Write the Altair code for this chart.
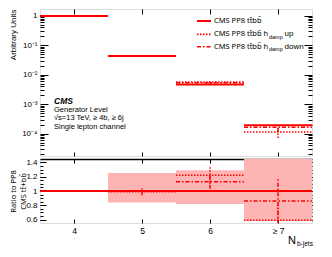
import altair as alt
import pandas as pd

# ---------------- data ----------------
bin_labels = ["4", "5", "6", "≥ 7"]
bin_center = [4, 5, 6, 7]
bin_lo = [3.5, 4.5, 5.5, 6.5]
bin_hi = [4.5, 5.5, 6.5, 7.5]

nominal = [0.98, 0.043, 0.00466, 1.93e-4]
hdamp_up = [0.98, 0.0426, 0.0057, 1.14e-4]
hdamp_down = [0.98, 0.043, 0.0053, 1.66e-4]
hdamp_up_err = [0.01, 0.002, 0.0006, 0.43e-4]
hdamp_down_err = [0.01, 0.002, 0.0005, 0.55e-4]

ratio_nominal = [1.0, 1.0, 1.0, 1.0]
ratio_up = [1.0, 0.99, 1.22, 0.59]
ratio_down = [1.0, 1.0, 1.13, 0.86]
ratio_up_err = [0.01, 0.05, 0.12, 0.22]
ratio_down_err = [0.01, 0.04, 0.10, 0.33]
band_lo = [0.99, 0.84, 0.82, 0.58]
band_hi = [1.01, 1.25, 1.29, 1.60]

legend_series = ["nom", "up", "down"]
legend_text = ["CMS PP8 tt̄bb̄", "CMS PP8 tt̄bb̄ h", "CMS PP8 tt̄bb̄ h"]
legend_sub = ["damp", "damp"]
legend_tail = ["up", "down"]

annotation_lines = ["Generator Level", "√s=13 TeV, ≥ 4b, ≥ 6j", "Single lepton channel"]

# ---------------- layout / style ----------------
W, H1, H2 = 272, 147, 64
RED = "#ff0000"
PINK = "#ffb4b4"
FONT = "Liberation Sans"
FONT_MARKS = "Noto Sans"      # has the combining macron for t̄ / b̄
DOT = [1.5, 1.5]
DASHDOT = [4, 2, 1.5, 2]

top = pd.DataFrame({
    "lo": bin_lo, "hi": bin_hi, "c": bin_center,
    "nom": nominal, "up": hdamp_up, "down": hdamp_down,
    "up_lo": [v - e for v, e in zip(hdamp_up, hdamp_up_err)],
    "up_hi": [v + e for v, e in zip(hdamp_up, hdamp_up_err)],
    "down_lo": [v - e for v, e in zip(hdamp_down, hdamp_down_err)],
    "down_hi": [v + e for v, e in zip(hdamp_down, hdamp_down_err)],
})
bot = pd.DataFrame({
    "lo": bin_lo, "hi": bin_hi, "c": bin_center,
    "nom": ratio_nominal, "up": ratio_up, "down": ratio_down,
    "band_lo": band_lo, "band_hi": band_hi,
    "up_lo": [v - e for v, e in zip(ratio_up, ratio_up_err)],
    "up_hi": [v + e for v, e in zip(ratio_up, ratio_up_err)],
    "down_lo": [v - e for v, e in zip(ratio_down, ratio_down_err)],
    "down_hi": [v + e for v, e in zip(ratio_down, ratio_down_err)],
})

ydom1 = [1.75e-5, 1.69]
ydom2 = [0.553, 1.447]
xscale = alt.Scale(domain=[3.5, 7.5], nice=False, zero=False)
yscale1 = alt.Scale(type="log", domain=ydom1, nice=False)
yscale2 = alt.Scale(domain=ydom2, nice=False, zero=False)

decades = [1e-4, 1e-3, 1e-2, 1e-1, 1.0]
minor_log = [k * 10.0 ** e for e in range(-5, 1) for k in range(2, 10)
             if ydom1[0] <= k * 10.0 ** e <= ydom1[1]]
major_lin = [0.6, 0.8, 1.0, 1.2, 1.4]
minor_lin = [round(0.55 + 0.05 * i, 2) for i in range(19)
             if ydom2[0] <= round(0.55 + 0.05 * i, 2) <= ydom2[1]]


def tick_axis(orient, values, size):
    return alt.Axis(orient=orient, values=values, tickSize=size, offset=-size,
                    labels=False, domain=False, grid=False, title=None,
                    ticks=True, tickColor="black", tickWidth=1)


# ---------------- upper panel ----------------
up_nom = alt.Chart(top).mark_rule(color=RED, strokeWidth=2).encode(
    x=alt.X("lo:Q", scale=xscale, axis=tick_axis("top", bin_center, 5)),
    x2="hi",
    y=alt.Y("nom:Q", scale=yscale1, axis=alt.Axis(
        orient="left", values=decades, ticks=False, domain=False, grid=False,
        labelExpr="datum.value >= 0.5 ? '1' : '10' + ['', '⁻¹', '⁻²', '⁻³', '⁻⁴', '⁻⁵'][round(-log(datum.value) / LN10)]",
        labelFont=FONT, labelFontSize=8, labelColor="black", labelPadding=3,
        title="Arbitrary Units", titleX=-25, titleY=0, titleAlign="right",
        titleAngle=270, titleBaseline="alphabetic", titleFont=FONT,
        titleFontSize=8, titleFontWeight="normal", titleColor="black")),
)
up_up = alt.Chart(top).mark_rule(color=RED, strokeWidth=1.5, strokeDash=DOT).encode(
    x=alt.X("lo:Q", scale=xscale, axis=tick_axis("bottom", bin_center, 4)),
    x2="hi",
    y=alt.Y("up:Q", scale=yscale1, axis=tick_axis("left", decades, 8)),
)
up_down = alt.Chart(top).mark_rule(color=RED, strokeWidth=1.5, strokeDash=DASHDOT).encode(
    x=alt.X("lo:Q", scale=xscale, axis=None),
    x2="hi",
    y=alt.Y("down:Q", scale=yscale1, axis=tick_axis("left", minor_log, 4)),
)
up_uperr = alt.Chart(top).mark_rule(color=RED, strokeWidth=1.5, strokeDash=DOT).encode(
    x=alt.X("c:Q", scale=xscale, axis=None),
    y=alt.Y("up_lo:Q", scale=yscale1, axis=tick_axis("right", decades, 8)),
    y2="up_hi",
)
up_downerr = alt.Chart(top).mark_rule(color=RED, strokeWidth=1.5, strokeDash=DASHDOT).encode(
    x=alt.X("c:Q", scale=xscale, axis=None),
    y=alt.Y("down_lo:Q", scale=yscale1, axis=tick_axis("right", minor_log, 4)),
    y2="down_hi",
)

# legend (drawn by hand so that the subscript can be shown)
leg_rows_y = [12, 25.3, 37.7]
leg_lines = pd.DataFrame({"x1": [157] * 3, "x2": [171] * 3, "y": leg_rows_y,
                          "s": legend_series})
leg_main = pd.DataFrame({"x": [174] * 3, "y": leg_rows_y, "t": legend_text})
leg_subs = pd.DataFrame({"x": [229] * 2, "y": [r + 2.5 for r in leg_rows_y[1:]],
                         "t": legend_sub})
leg_tail = pd.DataFrame({"x": [244.5] * 2, "y": leg_rows_y[1:], "t": legend_tail})

legend_lines = alt.Chart(leg_lines).mark_rule(color=RED).encode(
    x=alt.X("x1:Q", scale=None, axis=None), x2="x2",
    y=alt.Y("y:Q", scale=None, axis=None),
    strokeDash=alt.StrokeDash("s:N", scale=alt.Scale(domain=legend_series,
                              range=[[1, 0], DOT, DASHDOT]), legend=None),
    strokeWidth=alt.StrokeWidth("s:N", scale=alt.Scale(domain=legend_series,
                                range=[2, 1.5, 1.5]), legend=None),
)


def text_layer(df, size, font=FONT, **kw):
    return alt.Chart(df).mark_text(font=font, fontSize=size, align="left",
                                   baseline="middle", color="black", **kw).encode(
        x=alt.X("x:Q", scale=None, axis=None),
        y=alt.Y("y:Q", scale=None, axis=None),
        text="t:N",
    )


legend_main = text_layer(leg_main, 7.5, font=FONT_MARKS)
legend_sub_t = text_layer(leg_subs, 5.5)
legend_tail_t = text_layer(leg_tail, 8)

cms = text_layer(pd.DataFrame({"x": [14], "y": [92], "t": ["CMS"]}), 8.5,
                 fontWeight="bold", fontStyle="italic")
ann = text_layer(pd.DataFrame({"x": [14] * 3, "y": [100.5, 109, 117.7],
                               "t": annotation_lines}), 7.5)

upper = alt.layer(
    up_nom, up_up, up_down, up_uperr, up_downerr,
    legend_lines, legend_main, legend_sub_t, legend_tail_t, cms, ann,
).resolve_axis(x="independent", y="independent").properties(width=W, height=H1)

# ---------------- lower (ratio) panel ----------------
lo_band = alt.Chart(bot).mark_rect(color=PINK, clip=True).encode(
    x=alt.X("lo:Q", scale=xscale, axis=alt.Axis(
        orient="bottom", values=bin_center, ticks=False, domain=False, grid=False,
        labelExpr="datum.value == 7 ? '≥ 7' : datum.label", labelFont=FONT,
        labelFontSize=8.5, labelColor="black", labelPadding=3, title=None)),
    x2="hi",
    y=alt.Y("band_lo:Q", scale=yscale2, axis=alt.Axis(
        orient="left", values=major_lin, format="~g", ticks=False, domain=False,
        grid=False, labelFont=FONT, labelFontSize=8, labelColor="black",
        labelPadding=3, title=["Ratio to PP8", "CMS tt̄+bb̄"], titleX=-25,
        titleY=H2 / 2, titleAlign="center", titleAngle=270,
        titleBaseline="alphabetic", titleLineHeight=10, titleFont=FONT_MARKS,
        titleFontSize=7.5, titleFontWeight="normal", titleColor="black")),
    y2="band_hi",
)
lo_nom = alt.Chart(bot).mark_rule(color=RED, strokeWidth=2).encode(
    x=alt.X("lo:Q", scale=xscale, axis=tick_axis("bottom", bin_center, 4)),
    x2="hi",
    y=alt.Y("nom:Q", scale=yscale2, axis=tick_axis("left", major_lin, 6)),
)
lo_up = alt.Chart(bot).mark_rule(color=RED, strokeWidth=1.5, strokeDash=DOT, clip=True).encode(
    x=alt.X("lo:Q", scale=xscale, axis=tick_axis("top", bin_center, 4)),
    x2="hi",
    y=alt.Y("up:Q", scale=yscale2, axis=tick_axis("left", minor_lin, 3)),
)
lo_down = alt.Chart(bot).mark_rule(color=RED, strokeWidth=1.5, strokeDash=DASHDOT, clip=True).encode(
    x=alt.X("lo:Q", scale=xscale, axis=None),
    x2="hi",
    y=alt.Y("down:Q", scale=yscale2, axis=tick_axis("right", major_lin, 6)),
)
lo_uperr = alt.Chart(bot).mark_rule(color=RED, strokeWidth=1.5, strokeDash=DOT, clip=True).encode(
    x=alt.X("c:Q", scale=xscale, axis=None),
    y=alt.Y("up_lo:Q", scale=yscale2, axis=tick_axis("right", minor_lin, 3)),
    y2="up_hi",
)
lo_downerr = alt.Chart(bot).mark_rule(color=RED, strokeWidth=1.5, strokeDash=DASHDOT, clip=True).encode(
    x=alt.X("c:Q", scale=xscale, axis=alt.Axis(
        orient="top", values=bin_center, ticks=False, labels=False, grid=False,
        domain=True, domainColor="black", domainWidth=1.5, title=None)),
    y=alt.Y("down_lo:Q", scale=yscale2, axis=None),
    y2="down_hi",
)
xt_main = text_layer(pd.DataFrame({"x": [248], "y": [81.5], "t": ["N"]}), 11)
xt_sub = text_layer(pd.DataFrame({"x": [257], "y": [85], "t": ["b-jets"]}), 6.5)

lower = alt.layer(
    lo_band, lo_nom, lo_up, lo_down, lo_uperr, lo_downerr, xt_main, xt_sub,
).resolve_axis(x="independent", y="independent").properties(width=W, height=H2)

chart = alt.vconcat(upper, lower, spacing=0).properties(
    padding={"left": 0, "top": 0, "right": 2, "bottom": 2}
).configure_view(stroke="black", strokeWidth=1).configure(font=FONT)

chart.save("out.html", embed_options={"renderer": "svg", "actions": False})
